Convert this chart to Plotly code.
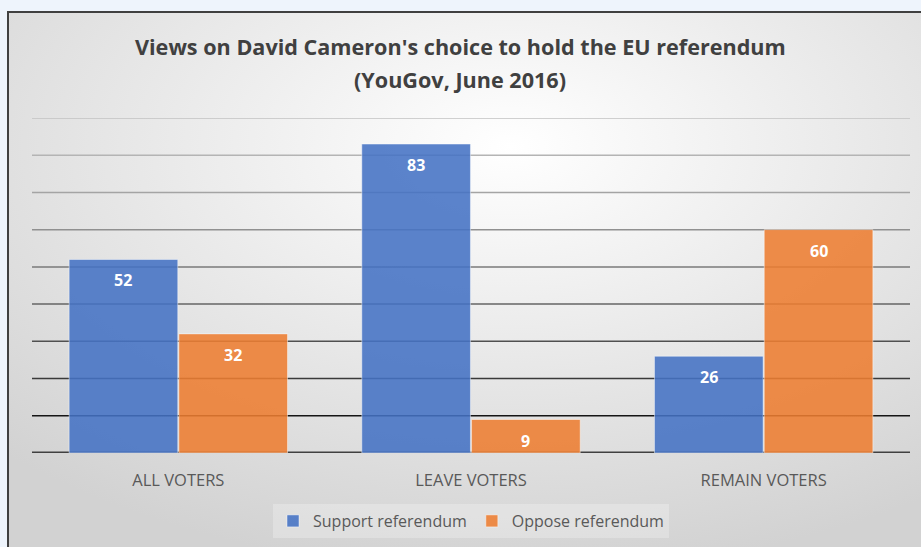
import base64
import plotly.graph_objects as go

categories = ["ALL VOTERS", "LEAVE VOTERS", "REMAIN VOTERS"]
support = [52, 83, 26]
oppose = [32, 9, 60]
series_names = ["Support referendum", "Oppose referendum"]
grid_values = [10, 20, 30, 40, 50, 60, 70, 80, 90]
grid_colors = ["#151515", "#3a3a3a", "#505050", "#656565", "#7a7a7a",
               "#909090", "#a4a4a4", "#b4b4b4", "#c2c2c2"]

W, H = 921, 547
ML, MR, MT, MB = 32, 11, 118, 94
PW, PH = W - ML - MR, H - MT - MB
BARGAP, GROUPGAP = 0.25, 0.01


def px_x(x):
    return (x - ML) / PW


def px_y(y):
    return (H - MB - y) / PH


svg = (
    '<svg xmlns="http://www.w3.org/2000/svg" width="1000" height="1000" preserveAspectRatio="none">'
    '<defs><radialGradient id="g" cx="55%" cy="25%" r="80%">'
    '<stop offset="0" stop-color="#ffffff"/><stop offset="1" stop-color="#d2d2d2"/>'
    '</radialGradient></defs><rect width="1000" height="1000" fill="url(#g)"/></svg>'
)
src = "data:image/svg+xml;base64," + base64.b64encode(svg.encode()).decode()

fig = go.Figure()
fig.add_trace(go.Bar(
    x=categories, y=support, name=series_names[0],
    marker=dict(color="rgba(68,114,196,0.88)", line=dict(color="rgba(255,255,255,0.45)", width=1)),
))
fig.add_trace(go.Bar(
    x=categories, y=oppose, name=series_names[1],
    marker=dict(color="rgba(237,125,49,0.88)", line=dict(color="rgba(255,255,255,0.45)", width=1)),
))

# data labels inside the top of each bar
cat_w = PW / len(categories)
bar_w = cat_w * (1 - BARGAP) / 2
annotations = []
for series, sign in ((support, -1), (oppose, 1)):
    for c, v in zip(categories, series):
        annotations.append(dict(
            x=c, y=v, xref="x", yref="y", text=str(v), showarrow=False,
            xshift=sign * bar_w / 2, yshift=-21, xanchor="center", yanchor="middle",
            font=dict(family="Open Sans", size=16, color="white", weight="bold")))

shapes = []
for v, c in zip(grid_values, grid_colors):
    shapes.append(dict(type="line", xref="paper", yref="y", x0=0, x1=1, y0=v, y1=v,
                       line=dict(color=c, width=1.5), layer="below"))
shapes.append(dict(type="line", xref="paper", yref="y", x0=0, x1=1, y0=0, y1=0,
                   line=dict(color="#404040", width=3), layer="below"))
# chart frame
shapes.append(dict(type="rect", xref="paper", yref="paper",
                   x0=px_x(8), x1=px_x(930), y0=px_y(560), y1=px_y(12),
                   line=dict(color="#404040", width=2), fillcolor="rgba(0,0,0,0)", layer="above"))

title_font = dict(family="Open Sans", size=21.6, color="#404040", weight="bold")
annotations += [
    dict(text="Views on David Cameron's choice to hold the EU referendum", xref="paper", yref="paper",
         x=px_x(460), y=px_y(47), showarrow=False, xanchor="center", yanchor="middle", font=title_font),
    dict(text="(YouGov, June 2016)", xref="paper", yref="paper",
         x=px_x(460), y=px_y(79), showarrow=False, xanchor="center", yanchor="middle", font=title_font),
]

fig.update_layout(
    width=W, height=H,
    margin=dict(l=ML, r=MR, t=MT, b=MB, autoexpand=False),
    paper_bgcolor="#eef4fc",
    plot_bgcolor="rgba(0,0,0,0)",
    barmode="group", bargap=BARGAP, bargroupgap=GROUPGAP,
    showlegend=True,
    legend=dict(orientation="h", x=0.5, xanchor="center", y=px_y(521), yanchor="middle",
                font=dict(family="Open Sans", size=16, color="#595959"),
                bgcolor="rgba(255,255,255,0.25)", itemwidth=30, traceorder="normal"),
    xaxis=dict(showgrid=False, showline=False, ticks="", zeroline=False, automargin=False,
               tickfont=dict(family="Open Sans", size=16.5, color="#595959"),
               ticklabelstandoff=15),
    yaxis=dict(range=[0, 90], showgrid=False, showticklabels=False, zeroline=False,
               showline=False, ticks="", automargin=False),
    images=[dict(source=src, xref="paper", yref="paper", x=px_x(9), y=px_y(13),
                 sizex=px_x(921) - px_x(9), sizey=px_y(13) - px_y(547),
                 sizing="stretch", xanchor="left", yanchor="top", layer="below")],
    shapes=shapes,
    annotations=annotations,
)

fig.write_html("out.html", config={"displayModeBar": False},
               post_script="document.body.style.margin='0';document.body.style.overflow='hidden';")
